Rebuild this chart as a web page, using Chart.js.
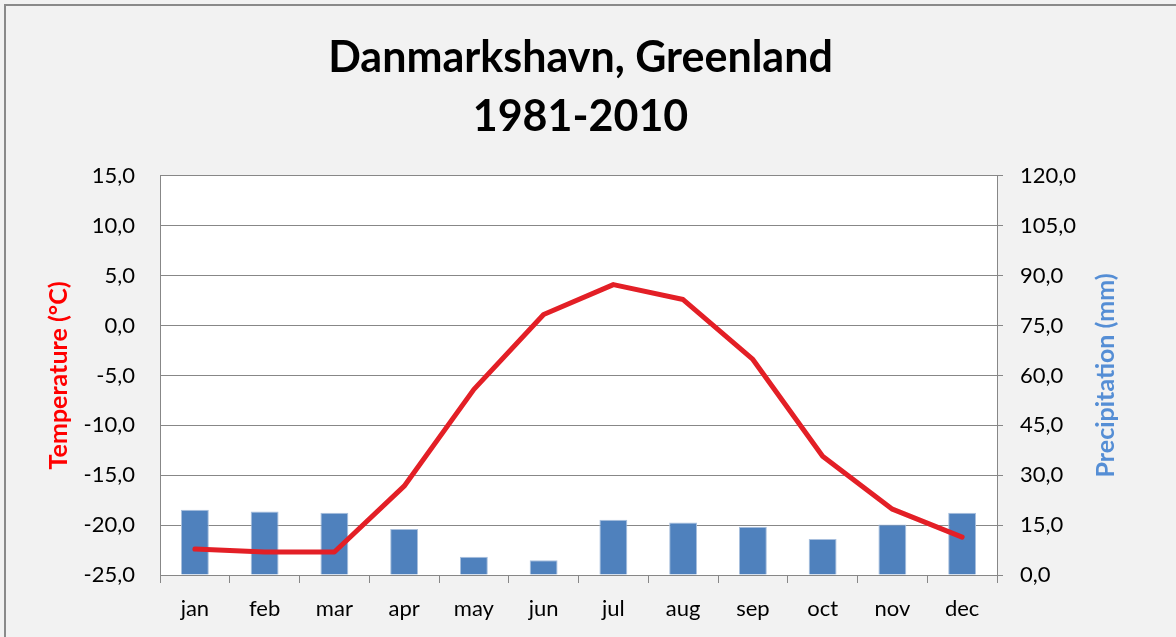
<!DOCTYPE html>
<html>
<head>
<meta charset="utf-8">
<script src="https://cdn.jsdelivr.net/npm/chart.js@4/dist/chart.umd.min.js"></script>
<style>
  html, body { margin: 0; padding: 0; background: #f2f2f2; overflow: hidden; }
  .frame {
    position: absolute; left: 4px; top: 4px; width: 1300px; height: 700px;
    border-left: 2px solid #8a8a8a; border-top: 2px solid #8a8a8a;
  }
  #wrap { position: absolute; left: 0; top: 0; width: 1176px; height: 637px; }
</style>
</head>
<body>
<div class="frame"></div>
<div id="wrap"><canvas id="myChart" width="1176" height="637"></canvas></div>
<script>
const months = ["jan", "feb", "mar", "apr", "may", "jun", "jul", "aug", "sep", "oct", "nov", "dec"];
const temperature = [-22.4, -22.7, -22.7, -16.1, -6.4, 1.1, 4.1, 2.6, -3.4, -13.1, -18.4, -21.2];
const precipitation = [19.6, 19.1, 18.7, 13.8, 5.5, 4.4, 16.6, 15.8, 14.5, 10.8, 15.2, 18.7];
const titleLines = ["Danmarkshavn, Greenland", "1981-2010"];
const rightTitle = "Precipitation (mm)";

const gridGray = "#878787";
const font = "Lato";

function commaFmt(v) {
  return v.toFixed(1).replace(".", ",");
}

// white plot area + right axis title reading bottom-up (like Excel)
const plotBg = {
  id: "plotBg",
  beforeDraw(chart) {
    const a = chart.chartArea;
    chart.ctx.save();
    chart.ctx.fillStyle = "#ffffff";
    chart.ctx.fillRect(a.left, a.top, a.right - a.left, a.bottom - a.top);
    chart.ctx.restore();
  },
  afterDraw(chart) {
    const ctx = chart.ctx;
    const s = chart.scales.y2;
    const a = chart.chartArea;
    ctx.save();
    ctx.translate(s.right - 15, (a.top + a.bottom) / 2);
    ctx.rotate(-Math.PI / 2);
    ctx.font = "bold 25px " + font;
    ctx.fillStyle = "#558ed5";
    ctx.textAlign = "center";
    ctx.textBaseline = "middle";
    ctx.fillText(rightTitle, 0, 0);
    ctx.restore();
  },
};

new Chart(document.getElementById("myChart"), {
  type: "bar",
  data: {
    labels: months,
    datasets: [
      {
        type: "line",
        label: "Temperature",
        data: temperature,
        yAxisID: "y",
        borderColor: "#e31f26",
        borderWidth: 5,
        pointRadius: 0,
        tension: 0,
        borderCapStyle: "round",
        borderJoinStyle: "round",
        order: 0,
      },
      {
        label: "Precipitation",
        data: precipitation,
        yAxisID: "y2",
        backgroundColor: "#4f81bd",
        borderColor: "#a9c0de",
        borderWidth: 1,
        barPercentage: 0.4,
        categoryPercentage: 1,
        order: 1,
      },
    ],
  },
  options: {
    responsive: false,
    animation: false,
    layout: { padding: { left: 40, right: 55, top: 0, bottom: 0 } },
    plugins: {
      legend: { display: false },
      tooltip: { enabled: false },
      title: {
        display: true,
        text: titleLines,
        color: "#000",
        font: { family: font, size: 43, weight: "bold", lineHeight: 1.37 },
        padding: { top: 29, bottom: 29 },
      },
    },
    scales: {
      x: {
        grid: {
          drawOnChartArea: false,
          tickLength: 8,
          color: gridGray,
          offset: true,
        },
        border: { color: gridGray, width: 1 },
        ticks: { color: "#000", font: { family: font, size: 22 }, padding: 13 },
        afterFit(scale) { scale.height = 62; },
      },
      y: {
        position: "left",
        min: -25,
        max: 15,
        ticks: {
          stepSize: 5,
          color: "#000",
          font: { family: font, size: 22 },
          padding: 25,
          callback: (v) => commaFmt(v),
        },
        grid: { color: gridGray, lineWidth: 1, drawTicks: false },
        border: { color: gridGray, width: 1 },
        title: {
          display: true,
          text: "Temperature (°C)",
          color: "#ff0000",
          font: { family: font, size: 25, weight: "bold" },
          padding: { top: 4, bottom: 0 },
        },
        afterFit(scale) { scale.width = 120; },
      },
      y2: {
        position: "right",
        min: 0,
        max: 120,
        ticks: {
          stepSize: 15,
          color: "#000",
          font: { family: font, size: 22 },
          padding: 17,
          callback: (v) => commaFmt(v),
        },
        grid: { drawOnChartArea: false, color: gridGray, tickLength: 6 },
        border: { color: gridGray, width: 1 },
        title: { display: false },
        afterFit(scale) { scale.width = 124; },
      },
    },
  },
  plugins: [plotBg],
});
</script>
</body>
</html>
